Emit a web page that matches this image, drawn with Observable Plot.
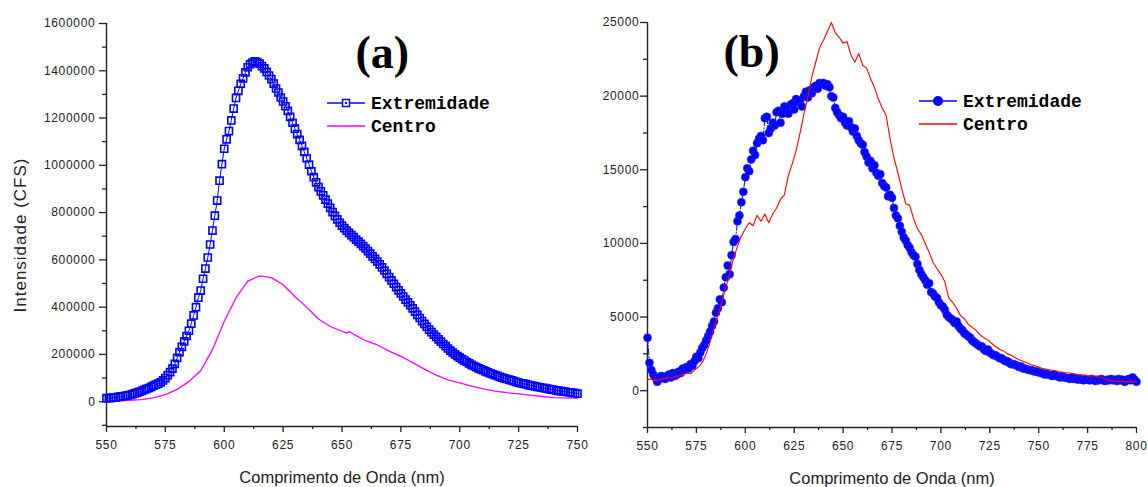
<!DOCTYPE html>
<html><head><meta charset="utf-8">
<script src="https://cdn.jsdelivr.net/npm/d3@7"></script>
<script src="https://cdn.jsdelivr.net/npm/@observablehq/plot@0.6"></script>
<style>
body{margin:0;background:#fff;}
#wrap{position:relative;width:1148px;height:487px;background:#fff;overflow:hidden}
#wrap > svg{position:absolute;top:0}
g[aria-label$="tick label"] text{letter-spacing:0.7px}
</style></head><body><div id="wrap"></div>
<script>
// ---------- Panel (a) data ----------
const wlA = d3.range(550, 751, 1); // 1 nm grid
const extremidadeA = [
15000,15000,16000,17000,18000,20000,21000,23000,25000,27000,
29000,32000,35000,38000,42000,46000,50000,54000,58000,63000,
68000,72000,76000,82000,90000,100000,112000,125000,140000,160000,
185000,210000,232000,255000,278000,300000,330000,365000,400000,440000,
470000,520000,563000,610000,665000,724000,787000,851000,935000,1005000,
1070000,1110000,1145000,1190000,1240000,1285000,1315000,1345000,1368000,1393000,
1415000,1428000,1435000,1440000,1437000,1430000,1420000,1410000,1395000,1380000,
1365000,1346000,1325000,1308000,1287000,1270000,1250000,1230000,1205000,1180000,
1155000,1132000,1108000,1082000,1057000,1030000,1003000,975000,950000,928000,
908000,890000,873000,855000,838000,820000,802000,786000,771000,757000,
745000,734000,724000,714000,705000,696000,686000,677000,668000,658000,
648000,637000,626000,615000,604000,593000,581000,568000,555000,541000,
527000,513000,499000,485000,471000,458000,445000,432000,420000,408000,
395000,381000,367000,354000,341000,329000,317000,305000,294000,284000,
274000,264000,254000,244000,235000,225000,216000,208000,200000,193000,
186000,180000,174000,168000,162000,156000,151000,146000,141000,137000,
133000,128000,124000,120000,116000,112000,109000,105000,102000,99000,
96000,93000,90000,87000,84000,81000,78000,76000,74000,71000,
69000,67000,65000,63000,61000,59000,57000,55000,53000,51000,
50000,48000,46000,45000,43000,42000,40000,39000,37000,36000,
34000];
const centroWlA = [550,555,560,565,570,575,580,585,590,595,600,605,610,615,620,625,630,635,640,645,650,652,653,655,660,665,670,675,680,685,690,695,700,705,710,715,720,725,730,735,740,745,750];
const centroA = [3000,4000,6000,9000,16000,30000,52000,85000,131000,220000,340000,440000,510000,532000,525000,495000,445000,400000,350000,318000,298000,290000,297000,285000,258000,240000,214000,192000,165000,138000,112000,92000,80000,66000,54000,45000,38000,33000,28000,22000,17000,16000,15000];
const xMajorA = [550,575,600,625,650,675,700,725,750];
const xMinorA = [562.5,587.5,612.5,637.5,662.5,687.5,712.5,737.5];
const yMajorA = [0,200000,400000,600000,800000,1000000,1200000,1400000,1600000];
const yMinorA = [-100000,100000,300000,500000,700000,900000,1100000,1300000,1500000];

// ---------- Panel (b) data ----------
const wlB = d3.range(550, 801, 1); // 1 nm grid
const extremidadeB = [
3600,1900,1400,1100,900,600,800,1000,950,800,
1000,1100,900,1200,1000,1100,1300,1200,1500,1400,
1600,1500,1800,1700,2000,2300,2200,2600,2900,3100,
3400,3700,4000,4400,4700,5300,5600,6200,6000,7000,
7700,8500,7900,9200,10100,10300,11500,11900,12800,13500,
14500,15100,14900,15700,16300,16000,16800,17100,17300,17000,
18500,18600,17500,17800,18200,18000,18900,19000,18200,18800,
19300,19200,18800,19400,19500,19100,19800,19600,19700,19300,
20000,20300,19900,20400,20200,20600,20700,20500,20900,20800,
20900,20700,20800,20600,20000,19900,19200,18900,18700,18500,
18600,18200,18000,18300,17900,17600,17800,17300,17000,16800,
16700,16200,15900,15500,15600,15100,15300,14800,14600,14700,
14100,13900,13800,13200,13300,13100,12400,11900,11700,11200,
10800,10400,10200,9900,9700,9400,9200,9100,8600,8200,
7900,7700,7500,7200,7300,6700,6600,6400,6300,6000,
5800,5700,5500,5150,5000,4900,4800,4600,4700,4400,
4200,4100,3900,3800,3700,3600,3400,3300,3200,3100,
3000,3000,2800,2700,2800,2600,2500,2400,2400,2300,
2200,2200,2100,2000,2000,1900,1800,1800,1760,1700,
1600,1650,1500,1500,1450,1400,1400,1350,1300,1300,
1250,1200,1200,1100,1150,1080,1050,1000,1100,1000,
950,900,1000,900,880,850,800,900,800,850,
750,800,750,700,800,750,700,800,750,650,
750,700,800,700,650,750,700,800,700,750,
650,800,700,750,600,700,800,700,900,750,
600];
const centroWlB = d3.range(550, 801, 2); // 2 nm grid
const centroB = [
750,800,700,750,800,900,850,950,1000,1100,
1200,1150,1400,1600,1900,2500,3300,4300,5100,6000,
7000,7900,9000,9800,10500,11000,11400,11200,11900,11500,
12000,11400,12000,12400,13000,13300,14600,15400,16300,17500,
18800,20000,21300,22300,23300,23800,24400,25000,24300,24000,
23600,23700,22800,22300,22900,22100,21900,21200,20600,19800,
19200,18700,17100,15800,14800,13700,12700,12600,11700,11000,
10600,10000,9400,8700,8300,7900,7400,6300,6000,5600,
5100,4900,4500,4300,4100,3800,3600,3450,3200,3000,
2800,2700,2500,2400,2240,2100,2000,1900,1760,1700,
1600,1500,1450,1400,1350,1300,1250,1220,1200,1150,
1100,1080,1050,1000,1000,950,900,800,700,650,
610,650,600,620,580,610];
const xMajorB = [550,575,600,625,650,675,700,725,750,775,800];
const xMinorB = [562.5,587.5,612.5,637.5,662.5,687.5,712.5,737.5,762.5,787.5];
const yMajorB = [0,5000,10000,15000,20000,25000];
const yMinorB = [-2500,2500,7500,12500,17500,22500];

const seriesNames = ["Extremidade", "Centro"];
const xTitle = "Comprimento de Onda (nm)";
const yTitle = "Intensidade (CFS)";

// ---------- tables ----------
const exA = wlA.map((w, i) => ({w, v: extremidadeA[i]}));
const ceA = centroWlA.map((w, i) => ({w, v: centroA[i]}));
const exB = wlB.map((w, i) => ({w, v: extremidadeB[i]}));
const ceB = centroWlB.map((w, i) => ({w, v: centroB[i]}));

const sans = "'Liberation Sans', Arial, sans-serif";
const serif = "'Liberation Serif', 'Times New Roman', serif";
const ink = "#222";
const fmt = d => String(d);
const blank = () => "";

function axes(xMaj, xMin, yMaj, yMin, xDom, yDom, yPad) {
  return [
    Plot.ruleX([xDom[0]], {stroke: ink, strokeWidth: 1.4}),
    Plot.ruleY([yDom[0]], {stroke: ink, strokeWidth: 1.4}),
    Plot.axisY({ticks: yMaj, tickSize: 7, tickPadding: yPad, tickFormat: fmt, label: null, strokeWidth: 1.3}),
    Plot.axisY({ticks: yMin, tickSize: 4, tickFormat: blank, label: null, strokeWidth: 1.3}),
    Plot.axisX({ticks: xMaj, tickSize: 6, tickPadding: 8, tickFormat: fmt, label: null, strokeWidth: 1.3}),
    Plot.axisX({ticks: xMin, tickSize: 3, tickFormat: blank, label: null, strokeWidth: 1.3}),
    Plot.text([xTitle], {frameAnchor: "bottom", textAnchor: "middle", dy: 56, fontSize: 16.5, fill: ink, style: "letter-spacing:0.3px"})
  ];
}

const domXA = [550, 750], domYA = [-105000, 1600000];
const plotA = Plot.plot({
  width: 590, height: 487,
  marginLeft: 106, marginRight: 13, marginTop: 23, marginBottom: 61,
  style: {fontFamily: sans, fontSize: "12px", color: ink, background: "transparent"},
  x: {domain: domXA}, y: {domain: domYA},
  marks: [
    ...axes(xMajorA, xMinorA, yMajorA, yMinorA, domXA, domYA, 4),
    Plot.text([yTitle], {frameAnchor: "left", textAnchor: "middle", dx: -86, dy: 10, rotate: -90, fontSize: 17, fill: ink}),
    Plot.line(ceA, {x: "w", y: "v", stroke: "#ff00ff", strokeWidth: 1.3}),
    Plot.line(exA, {x: "w", y: "v", stroke: "#0000ff", strokeWidth: 1}),
    Plot.dot(exA, {x: "w", y: "v", symbol: "square", r: 4, stroke: "#0000ff", strokeWidth: 1.6, fill: "none"}),
    Plot.text(["(a)"], {frameAnchor: "top-left", dx: 249, dy: 12, fontSize: 46, fontWeight: "bold", fontFamily: serif, fill: "#000"})
  ]
});

const domXB = [550, 800], domYB = [-2500, 25000];
const plotB = Plot.plot({
  width: 558, height: 487,
  marginLeft: 57, marginRight: 12, marginTop: 22, marginBottom: 60,
  style: {fontFamily: sans, fontSize: "12px", color: ink, background: "transparent"},
  x: {domain: domXB}, y: {domain: domYB},
  marks: [
    ...axes(xMajorB, xMinorB, yMajorB, yMinorB, domXB, domYB, 1),
    Plot.line(exB, {x: "w", y: "v", stroke: "#0000ff", strokeWidth: 1, strokeDasharray: "6,2,1,2"}),
    Plot.dot(exB, {x: "w", y: "v", r: 4, fill: "#0000ff", stroke: "#2a2aff", strokeWidth: 0.6}),
    Plot.line(ceB, {x: "w", y: "v", stroke: "#ff0000", strokeWidth: 1.1}),
    Plot.text(["(b)"], {frameAnchor: "top-left", dx: 76, dy: 12, fontSize: 46, fontWeight: "bold", fontFamily: serif, fill: "#000"})
  ]
});

const wrap = document.getElementById("wrap");
plotA.style.left = "0px";
plotB.style.left = "590px";
wrap.appendChild(plotA);
wrap.appendChild(plotB);

// y title letter spacing
d3.select(plotA).selectAll("text").filter(function() { return this.textContent === yTitle; })
  .style("letter-spacing", "1px");

// ---------- legends ----------
function legend(svg, x0, y0, gap, items) {
  const g = d3.select(svg).append("g").attr("aria-label", "legend").attr("text-anchor", "start");
  items.forEach((it, i) => {
    const y = y0 + i * gap;
    g.append("line").attr("x1", x0).attr("x2", x0 + 38).attr("y1", y).attr("y2", y)
      .attr("stroke", it.color).attr("stroke-width", 1.4);
    if (it.marker === "square") {
      g.append("rect").attr("x", x0 + 19 - 3.5).attr("y", y - 3.5).attr("width", 7).attr("height", 7)
        .attr("fill", "#fff").attr("stroke", it.color).attr("stroke-width", 1.5);
      g.append("rect").attr("x", x0 + 19 - 1).attr("y", y - 1).attr("width", 2).attr("height", 2).attr("fill", it.color);
    } else if (it.marker === "circle") {
      g.append("circle").attr("cx", x0 + 19).attr("cy", y).attr("r", 5).attr("fill", it.color);
    }
    g.append("text").attr("x", x0 + 44).attr("y", y).attr("dy", "0.35em").attr("text-anchor", "start")
      .attr("font-family", "'Courier New', 'Liberation Mono', monospace").attr("font-weight", "bold")
      .attr("font-size", 18).attr("fill", "#000").text(it.label);
  });
}
legend(plotA, 327, 103, 23, [
  {label: seriesNames[0], color: "#0000ff", marker: "square"},
  {label: seriesNames[1], color: "#ff00ff"}
]);
legend(plotB, 919 - 590, 101, 23, [
  {label: seriesNames[0], color: "#0000ff", marker: "circle"},
  {label: seriesNames[1], color: "#ff0000"}
]);
</script></body></html>
